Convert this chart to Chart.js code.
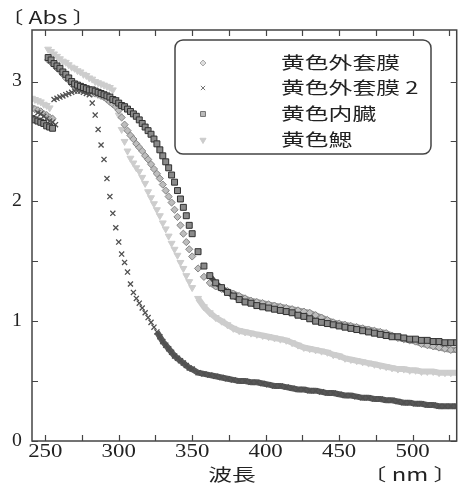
<!DOCTYPE html>
<html>
<head>
<meta charset="utf-8">
<script src="https://cdn.jsdelivr.net/npm/chart.js@4.4.1/dist/chart.umd.min.js"></script>
<style>
html, body { margin: 0; padding: 0; background: #fff; }
#wrap { width: 462px; height: 486px; }
</style>
</head>
<body>
<div id="wrap"><canvas id="absChart" width="462" height="486"></canvas></div>
<script>
// wavelength grid (nm) of the main scan
const wavelengths = [
  252, 254, 256, 258, 260, 262, 264, 266, 268, 270, 272, 274, 276, 278, 280, 282, 284, 286, 288, 290,
  292, 294, 296, 298, 300, 302, 304, 306, 308, 310, 312, 314, 316, 318, 320, 322, 324, 326, 328, 330,
  332, 334, 336, 338, 340, 342, 344, 346, 348, 350,
  354, 358, 362, 366, 370, 374, 378, 382, 386, 390, 394, 398, 402, 406, 410, 414, 418, 422, 426, 430,
  434, 438, 442, 446, 450, 454, 458, 462, 466, 470, 474, 478, 482, 486, 490, 494, 498, 502, 506, 510,
  514, 518, 522, 526, 530
];
// short piece at the start of the scan (left cluster)
const lowWavelengths = [241, 243, 245, 247, 249, 251, 253, 255, 257];

const seriesNames = ['黄色外套膜', '黄色外套膜 2', '黄色内臓', '黄色鰓'];

const mantle = [
  3.18, 3.16, 3.14, 3.11, 3.09, 3.06, 3.03, 3.01, 2.98, 2.96, 2.95, 2.94, 2.93, 2.92, 2.91, 2.90, 2.90, 2.89, 2.88, 2.87,
  2.85, 2.83, 2.81, 2.79, 2.76, 2.70, 2.64, 2.59, 2.55, 2.52, 2.48, 2.45, 2.42, 2.38, 2.35, 2.31, 2.27, 2.23, 2.19, 2.14,
  2.09, 2.04, 1.99, 1.93, 1.87, 1.80, 1.73, 1.66, 1.60, 1.54,
  1.44, 1.37, 1.32, 1.29, 1.27, 1.25, 1.23, 1.21, 1.19, 1.17, 1.16, 1.15, 1.14, 1.13, 1.12, 1.11, 1.10, 1.09, 1.08, 1.07,
  1.05, 1.03, 1.01, 0.99, 0.98, 0.97, 0.96, 0.95, 0.94, 0.93, 0.92, 0.91, 0.90, 0.88, 0.86, 0.85, 0.84, 0.83, 0.81, 0.80,
  0.79, 0.78, 0.77, 0.76, 0.76
];
const mantle2 = [
  null, null, 2.85, 2.86, 2.87, 2.88, 2.89, 2.90, 2.91, 2.92, 2.92, 2.92, 2.91, 2.90, 2.89, 2.82, 2.72, 2.60, 2.47, 2.35,
  2.19, 2.04, 1.90, 1.78, 1.66, 1.56, 1.49, 1.41, 1.31, 1.24, 1.19, 1.15, 1.11, 1.07, 1.03, 0.99, 0.95, 0.91, 0.87, 0.83,
  0.80, 0.77, 0.74, 0.71, 0.69, 0.67, 0.65, 0.63, 0.61, 0.60,
  0.57, 0.56, 0.55, 0.54, 0.53, 0.52, 0.51, 0.50, 0.50, 0.49, 0.49, 0.48, 0.47, 0.46, 0.46, 0.45, 0.44, 0.43, 0.43, 0.42,
  0.42, 0.41, 0.40, 0.40, 0.39, 0.38, 0.38, 0.37, 0.36, 0.36, 0.35, 0.35, 0.34, 0.34, 0.33, 0.32, 0.32, 0.31, 0.31, 0.30,
  0.30, 0.29, 0.29, 0.29, 0.29
];
const viscera = [
  3.20, 3.18, 3.15, 3.13, 3.11, 3.08, 3.06, 3.03, 3.00, 2.98, 2.97, 2.96, 2.95, 2.94, 2.93, 2.93, 2.92, 2.91, 2.90, 2.89,
  2.88, 2.87, 2.85, 2.84, 2.82, 2.80, 2.79, 2.77, 2.75, 2.73, 2.71, 2.68, 2.65, 2.62, 2.59, 2.56, 2.52, 2.48, 2.43, 2.38,
  2.33, 2.28, 2.22, 2.16, 2.09, 2.02, 1.95, 1.88, 1.80, 1.73,
  1.58, 1.46, 1.38, 1.32, 1.28, 1.24, 1.21, 1.18, 1.16, 1.15, 1.13, 1.12, 1.11, 1.10, 1.09, 1.08, 1.07, 1.05, 1.04, 1.02,
  1.00, 0.99, 0.98, 0.97, 0.96, 0.95, 0.94, 0.93, 0.92, 0.91, 0.90, 0.89, 0.88, 0.87, 0.87, 0.86, 0.85, 0.85, 0.84, 0.84,
  0.83, 0.83, 0.82, 0.82, 0.82
];
const gill = [
  3.27, 3.25, 3.23, 3.21, 3.19, 3.17, 3.16, 3.14, 3.12, 3.11, 3.09, 3.08, 3.06, 3.05, 3.03, 3.02, 3.00, 2.99, 2.98, 2.97,
  2.96, 2.95, 2.93, 2.85, 2.72, 2.60, 2.50, 2.42, 2.36, 2.32, 2.28, 2.25, 2.20, 2.15, 2.08, 2.03, 1.98, 1.93, 1.88, 1.82,
  1.77, 1.71, 1.65, 1.60, 1.55, 1.49, 1.44, 1.38, 1.33, 1.28,
  1.19, 1.12, 1.07, 1.03, 1.00, 0.97, 0.94, 0.92, 0.91, 0.90, 0.89, 0.88, 0.87, 0.86, 0.85, 0.84, 0.82, 0.80, 0.78, 0.77,
  0.76, 0.75, 0.74, 0.72, 0.71, 0.69, 0.68, 0.67, 0.66, 0.65, 0.64, 0.63, 0.62, 0.61, 0.60, 0.60, 0.59, 0.59, 0.58, 0.58,
  0.58, 0.57, 0.57, 0.57, 0.57
];

const mantleLow = [2.78, 2.77, 2.76, 2.75, 2.73, 2.72, 2.70, 2.69, null];
const mantle2Low = [null, null, 2.74, 2.73, 2.71, 2.69, 2.67, 2.66, 2.64];
const visceraLow = [2.69, 2.68, 2.67, 2.66, 2.65, 2.63, 2.62, 2.61, null];
const gillLow = [2.86, 2.85, 2.84, 2.83, 2.81, 2.80, 2.78, null, null];

const xTickLabels = [250, 300, 350, 400, 450, 500];
const xTickMarks = [250, 275, 300, 325, 350, 375, 400, 425, 450, 475, 500, 525];
const yTickLabels = [0, 1, 2, 3];
const yTickMarks = [0, 0.5, 1, 1.5, 2, 2.5, 3];

function toPoints(xs, ys) {
  const pts = [];
  xs.forEach((x, i) => {
    if (ys[i] !== null) pts.push({ x: x, y: ys[i] });
  });
  return pts;
}

// solid band behind the markers only where the curve has flattened out
function bandColor(color, from) {
  return c => (c.p0.parsed.x >= from && c.p1.parsed.x >= from) ? color : 'rgba(0,0,0,0)';
}

const cjkFont = '"Noto Sans CJK JP", "Noto Sans", sans-serif';
const numFont = '"Liberation Serif", "DejaVu Serif", serif';

function stretchText(ctx, text, x, y, align, sx) {
  ctx.save();
  ctx.translate(x, y);
  ctx.scale(sx, 1);
  ctx.textAlign = align;
  ctx.textBaseline = 'middle';
  ctx.fillText(text, 0, 0);
  ctx.restore();
}

const framePlugin = {
  id: 'frame',
  afterDraw(chart) {
    const ctx = chart.ctx;
    const a = chart.chartArea;
    const xs = chart.scales.x;
    const ys = chart.scales.y;
    ctx.save();

    ctx.strokeStyle = '#444';
    ctx.lineWidth = 1.5;
    ctx.strokeRect(a.left, a.top, a.right - a.left, a.bottom - a.top);

    ctx.lineWidth = 1.2;
    ctx.beginPath();
    xTickMarks.forEach(v => {
      const px = Math.round(xs.getPixelForValue(v)) + 0.5;
      ctx.moveTo(px, a.bottom); ctx.lineTo(px, a.bottom - 6);
      ctx.moveTo(px, a.top); ctx.lineTo(px, a.top + 6);
    });
    yTickMarks.forEach(v => {
      const py = Math.round(ys.getPixelForValue(v)) + 0.5;
      ctx.moveTo(a.left, py); ctx.lineTo(a.left + 6, py);
      ctx.moveTo(a.right, py); ctx.lineTo(a.right - 6, py);
    });
    ctx.stroke();

    ctx.fillStyle = '#222';
    ctx.font = '19px ' + numFont;
    xs.ticks.forEach(t => {
      stretchText(ctx, String(t.value), xs.getPixelForValue(t.value), 452, 'center', 1.2);
    });
    ctx.font = '18px ' + numFont;
    ys.ticks.forEach(t => {
      stretchText(ctx, String(t.value), 22, ys.getPixelForValue(t.value), 'right', 1.1);
    });

    ctx.font = '17px ' + cjkFont;
    stretchText(ctx, '波長', 232, 475, 'center', 1.4);
    stretchText(ctx, '〔 nm 〕', 410, 475, 'center', 1.4);
    stretchText(ctx, '〔 Abs 〕', 48, 18, 'center', 1.35);

    // legend box
    const bx = 175, by = 40, bw = 256, bh = 114, r = 8;
    ctx.fillStyle = '#fff';
    ctx.strokeStyle = '#444';
    ctx.lineWidth = 1.5;
    ctx.beginPath();
    ctx.moveTo(bx + r, by);
    ctx.arcTo(bx + bw, by, bx + bw, by + bh, r);
    ctx.arcTo(bx + bw, by + bh, bx, by + bh, r);
    ctx.arcTo(bx, by + bh, bx, by, r);
    ctx.arcTo(bx, by, bx + bw, by, r);
    ctx.closePath();
    ctx.fill();
    ctx.stroke();

    const rows = [63, 88, 114, 140];
    const marks = [
      { pointStyle: 'rectRot', radius: 3, rotation: 0, borderWidth: 1, fill: '#ddd', stroke: '#aaa' },
      { pointStyle: 'crossRot', radius: 3, rotation: 0, borderWidth: 1, fill: '#777', stroke: '#777' },
      { pointStyle: 'rect', radius: 3.5, rotation: 0, borderWidth: 1, fill: '#bbb', stroke: '#777' },
      { pointStyle: 'triangle', radius: 3.5, rotation: 180, borderWidth: 1, fill: '#ccc', stroke: '#ccc' }
    ];
    chart.data.datasets.forEach((ds, i) => {
      const m = marks[i];
      ctx.fillStyle = m.fill;
      ctx.strokeStyle = m.stroke;
      ctx.lineWidth = m.borderWidth;
      if (Chart.helpers && Chart.helpers.drawPoint) {
        Chart.helpers.drawPoint(ctx, m, 203, rows[i]);
      } else {
        ctx.fillRect(200, rows[i] - 2, 5, 5);
      }
      ctx.fillStyle = '#222';
      ctx.font = '17px ' + cjkFont;
      stretchText(ctx, ds.label, 281, rows[i], 'left', 1.4);
    });

    ctx.restore();
  }
};

const ctx = document.getElementById('absChart').getContext('2d');
const absChart = new Chart(ctx, {
  type: 'scatter',
  data: {
    datasets: [{
      label: seriesNames[0],
      data: toPoints(lowWavelengths, mantleLow).concat(toPoints(wavelengths, mantle)),
      order: 2,
      pointStyle: 'rectRot',
      pointRadius: 3.6,
      backgroundColor: '#bdbdbd',
      borderColor: '#858585',
      pointBorderWidth: 1,
      showLine: true,
      borderWidth: 6,
      segment: { borderColor: bandColor('#999', 362) }
    }, {
      label: seriesNames[1],
      data: toPoints(lowWavelengths, mantle2Low).concat(toPoints(wavelengths, mantle2)),
      order: 1,
      pointStyle: 'crossRot',
      pointRadius: 3.6,
      backgroundColor: '#505050',
      borderColor: '#505050',
      pointBorderWidth: 1.3,
      showLine: true,
      borderWidth: 6,
      segment: { borderColor: bandColor('#585858', 326) }
    }, {
      label: seriesNames[2],
      data: toPoints(lowWavelengths, visceraLow).concat(toPoints(wavelengths, viscera)),
      order: 0,
      pointStyle: 'rect',
      pointRadius: 4.2,
      backgroundColor: '#8a8a8a',
      borderColor: '#303030',
      pointBorderWidth: 1,
      showLine: true,
      borderWidth: 5,
      segment: { borderColor: bandColor('#4a4a4a', 362) }
    }, {
      label: seriesNames[3],
      data: toPoints(lowWavelengths, gillLow).concat(toPoints(wavelengths, gill)),
      order: 3,
      pointStyle: 'triangle',
      rotation: 180,
      pointRadius: 4,
      backgroundColor: '#cdcdcd',
      borderColor: '#cdcdcd',
      pointBorderWidth: 1,
      showLine: true,
      borderWidth: 6,
      segment: { borderColor: bandColor('#cdcdcd', 354) }
    }]
  },
  options: {
    responsive: false,
    animation: false,
    events: [],
    layout: { padding: { top: 30, right: 1, left: 0, bottom: 0 } },
    scales: {
      x: {
        type: 'linear',
        min: 241,
        max: 530,
        afterBuildTicks: s => { s.ticks = xTickLabels.map(v => ({ value: v })); },
        afterFit: s => { s.height = 45; },
        ticks: { display: false },
        grid: { display: false },
        border: { display: false }
      },
      y: {
        type: 'linear',
        min: 0,
        max: 3.43,
        afterBuildTicks: s => { s.ticks = yTickLabels.map(v => ({ value: v })); },
        afterFit: s => { s.width = 32; },
        ticks: { display: false },
        grid: { display: false },
        border: { display: false }
      }
    },
    plugins: {
      legend: { display: false },
      tooltip: { enabled: false }
    }
  },
  plugins: [framePlugin]
});
</script>
</body>
</html>
